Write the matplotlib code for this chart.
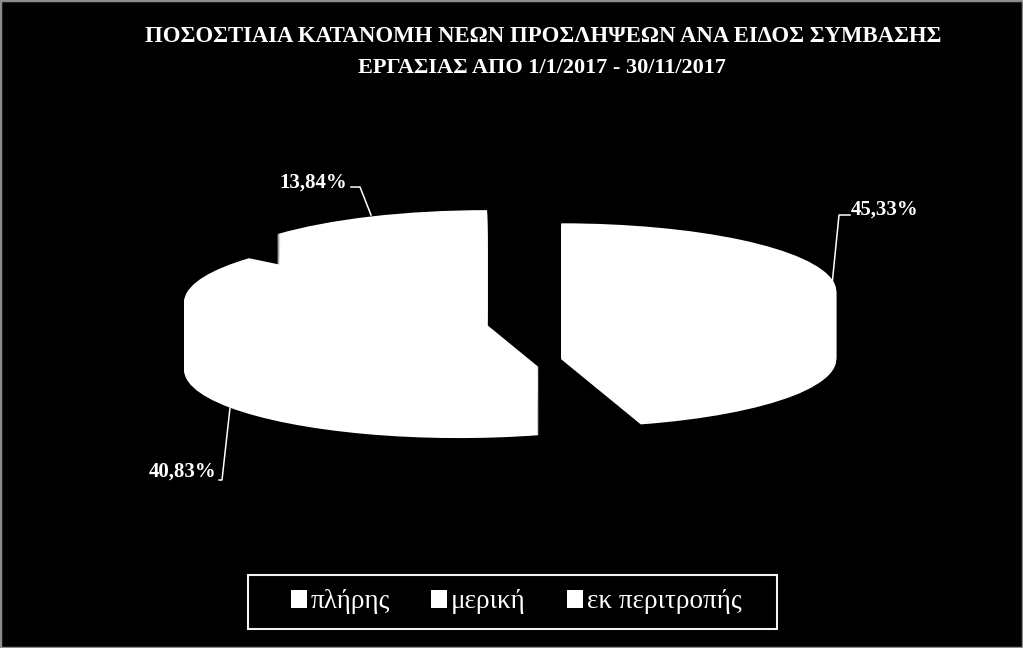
import numpy as np
import matplotlib
matplotlib.use('Agg')
import matplotlib.pyplot as plt
from matplotlib.lines import Line2D
from matplotlib.patches import Rectangle

WIDTH, HEIGHT = 1023, 648

categories = ['πλήρης', 'μερική', 'εκ περιτροπής']
values = [45.33, 40.83, 13.84]
value_labels = ['45,33%', '40,83%', '13,84%']
title_lines = ['ΠΟΣΟΣΤΙΑΙΑ ΚΑΤΑΝΟΜΗ ΝΕΩΝ ΠΡΟΣΛΗΨΕΩΝ ΑΝΑ ΕΙΔΟΣ ΣΥΜΒΑΣΗΣ',
               'ΕΡΓΑΣΙΑΣ ΑΠΟ 1/1/2017 - 30/11/2017']

explode = [0.17, 0.243, 0.241]

# pie centre and ellipse size in pixels of the picture
center_x, center_y = 515, 293
radius_x, radius_y = 275, 68
depth_steps = np.linspace(1, 0, 70)

plt.rcParams['font.family'] = ['Liberation Serif', 'DejaVu Serif']


def fig_xy(x, y):
    return x / WIDTH, 1 - y / HEIGHT


fig = plt.figure(figsize=(WIDTH / 100, HEIGHT / 100), dpi=100, facecolor='black')
ax = fig.add_axes([0, 0, 1, 1])

# stack the same pie downwards to get the thick 3d look
for depth in depth_steps:
    wedges, _ = ax.pie(values, explode=explode, startangle=90, counterclock=False,
                       colors=['white'] * 3, center=(0, -depth), radius=1)

ax.set_aspect('auto')
ax.set_box_aspect(None)
ax.set_position([0, 0, 1, 1])
ax.set_xlim(-center_x / radius_x, (WIDTH - center_x) / radius_x)
ax.set_ylim((center_y - HEIGHT) / radius_y, center_y / radius_y)
ax.set_facecolor('black')
ax.axis('off')

# title
fig.text(*fig_xy(543, 36), title_lines[0], color='white', fontsize=16.4, fontweight='bold',
         ha='center', va='center')
fig.text(*fig_xy(541.5, 68), title_lines[1], color='white', fontsize=16, fontweight='bold',
         ha='center', va='center')

# value labels with leader lines
fig.text(*fig_xy(885, 210), value_labels[0], color='white', fontsize=15, fontweight='bold',
         ha='center', va='center')
fig.text(*fig_xy(183, 472), value_labels[1], color='white', fontsize=15, fontweight='bold',
         ha='center', va='center')
fig.text(*fig_xy(313, 183), value_labels[2], color='white', fontsize=15, fontweight='bold',
         ha='center', va='center')

leaders = [([850, 839, 832], [215, 215, 285]),
           ([219, 222, 230], [480, 480, 408]),
           ([351, 360, 371], [187, 187, 215])]
for xs, ys in leaders:
    pts = [fig_xy(x, y) for x, y in zip(xs, ys)]
    fig.add_artist(Line2D([p[0] for p in pts], [p[1] for p in pts], color='white', lw=1.1))

# legend
leg = fig.legend(wedges, categories, ncol=3, loc='center',
                 bbox_to_anchor=fig_xy(516, 602), frameon=False,
                 labelcolor='white', fontsize=19.5, handlelength=0.6, handleheight=0.6,
                 handletextpad=0.15, columnspacing=1.5, borderpad=0, borderaxespad=0)

x0, y1 = fig_xy(248, 629)
x1, y0 = fig_xy(777, 575)
fig.add_artist(Rectangle((x0, y1), x1 - x0, y0 - y1, fill=False, edgecolor='#f2f2f2', lw=1.5,
                         transform=fig.transFigure))

# thin grey edge round the picture
fig.add_artist(Rectangle((0, 0), 1, 1, fill=False, edgecolor='#8c8c8c', lw=2.5,
                         transform=fig.transFigure))

fig.savefig('out.png', dpi=100, facecolor='black')
